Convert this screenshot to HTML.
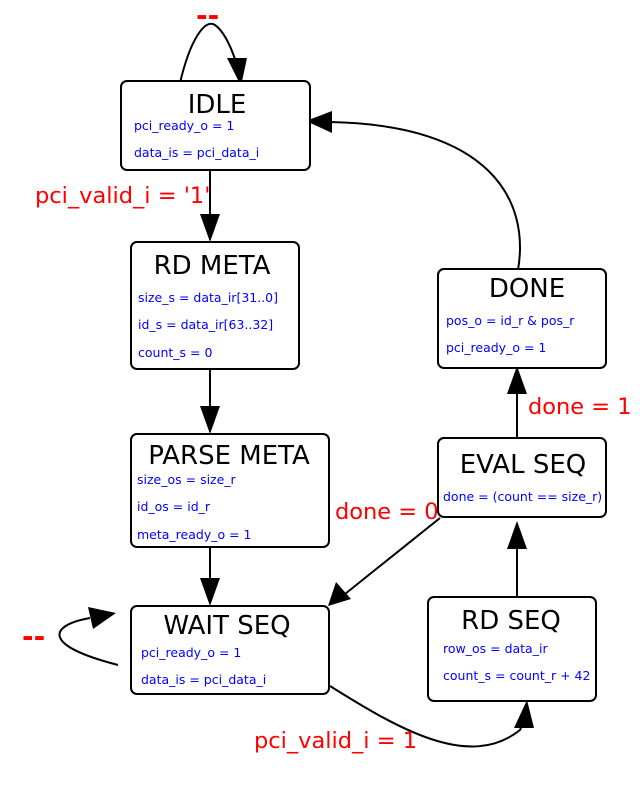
<!DOCTYPE html>
<html><head><meta charset="utf-8"><style>
html,body{margin:0;padding:0;background:#fff;width:640px;height:792px;overflow:hidden}
svg{display:block}
text{font-family:"DejaVu Sans","Liberation Sans",sans-serif}
.t{font-size:26px;fill:#000}
.b{font-size:12.5px;fill:#00f}
.r{font-size:22.5px;fill:#f00}
rect{fill:#fff;stroke:#000;stroke-width:2}
path.l{fill:none;stroke:#000;stroke-width:2}
</style></head><body>
<svg width="640" height="792" viewBox="0 0 640 792">
<path class="l" d="M180,83 C190,40 205,18 215,25 C225,32 232,50 236,62"/>
<polygon points="227,58 247,58 241,86"/>
<path class="l" d="M210,170 L210,218"/>
<polygon points="200,214 220,214 210,242"/>
<path class="l" d="M210,370 L210,410"/>
<polygon points="200,406 220,406 210,434"/>
<path class="l" d="M210,547 L210,582"/>
<polygon points="200,578 220,578 210,606"/>
<path class="l" d="M518,270 C530,200 490,125 330,122"/>
<polygon points="332,111 332,133 306,121"/>
<path class="l" d="M517,438 L517,390"/>
<polygon points="507,394 527,394 517,366"/>
<path class="l" d="M517,597 L517,545"/>
<polygon points="507,549 527,549 517,521"/>
<path class="l" d="M440,518 L345,594"/>
<polygon points="336,582 351,599 328,606"/>
<path class="l" d="M330,686 C400,730 470,770 520,730 L523,723"/>
<polygon points="514,728 534,728 527,700"/>
<path class="l" d="M118,665 C40,645 50,625 90,618"/>
<polygon points="88,607 93,629 116,613"/>
<rect x="121" y="81" width="189" height="89" rx="6"/>
<rect x="131" y="242" width="168" height="127" rx="6"/>
<rect x="131" y="434" width="198" height="113" rx="6"/>
<rect x="131" y="606" width="198" height="88" rx="6"/>
<rect x="438" y="269" width="168" height="99" rx="6"/>
<rect x="438" y="438" width="168" height="79" rx="6"/>
<rect x="428" y="597" width="168" height="104" rx="6"/>
<text class="t" x="217" y="113" text-anchor="middle">IDLE</text>
<text class="t" x="212" y="274" text-anchor="middle">RD META</text>
<text class="t" x="229" y="464" text-anchor="middle">PARSE META</text>
<text class="t" x="227" y="634" text-anchor="middle">WAIT SEQ</text>
<text class="t" x="527" y="297" text-anchor="middle">DONE</text>
<text class="t" x="523" y="473" text-anchor="middle">EVAL SEQ</text>
<text class="t" x="511" y="629" text-anchor="middle">RD SEQ</text>
<text class="b" x="134" y="130">pci_ready_o = 1</text>
<text class="b" x="134" y="157">data_is = pci_data_i</text>
<text class="b" x="138" y="302">size_s = data_ir[31..0]</text>
<text class="b" x="138" y="329">id_s = data_ir[63..32]</text>
<text class="b" x="138" y="357">count_s = 0</text>
<text class="b" x="137" y="484">size_os = size_r</text>
<text class="b" x="137" y="511">id_os = id_r</text>
<text class="b" x="137" y="539">meta_ready_o = 1</text>
<text class="b" x="141" y="657">pci_ready_o = 1</text>
<text class="b" x="141" y="684">data_is = pci_data_i</text>
<text class="b" x="446" y="325">pos_o = id_r &amp; pos_r</text>
<text class="b" x="446" y="352">pci_ready_o = 1</text>
<text class="b" x="443" y="501">done = (count == size_r)</text>
<text class="b" x="443" y="653">row_os = data_ir</text>
<text class="b" x="443" y="680">count_s = count_r + 42</text>
<text class="r" x="196" y="25" style="font-size:28px;font-weight:bold">--</text>
<text class="r" x="35" y="203">pci_valid_i = '1'</text>
<text class="r" x="528" y="414">done = 1</text>
<text class="r" x="335" y="519">done = 0</text>
<text class="r" x="22" y="646" style="font-size:28px;font-weight:bold">--</text>
<text class="r" x="254" y="748">pci_valid_i = 1</text>
</svg>
</body></html>
